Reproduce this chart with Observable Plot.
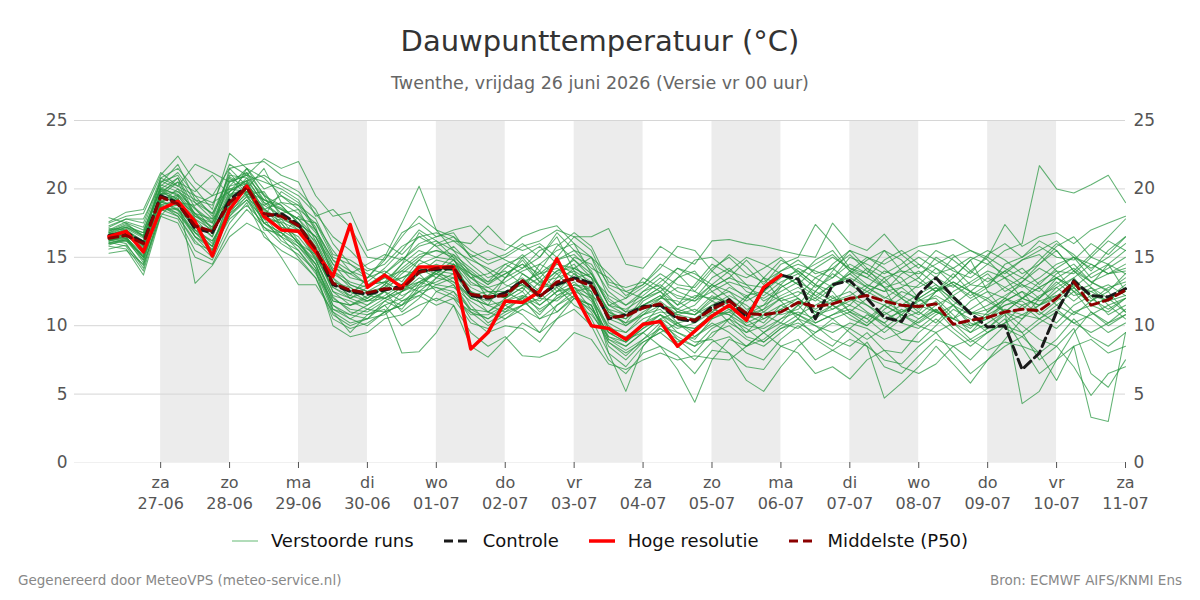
<!DOCTYPE html>
<html>
<head>
<meta charset="utf-8">
<script src="https://cdn.jsdelivr.net/npm/d3@7"></script>
<script src="https://cdn.jsdelivr.net/npm/@observablehq/plot@0.6"></script>
<style>
  html, body { margin: 0; padding: 0; background: #fff; }
  #wrap { position: relative; width: 1200px; height: 600px; font-family: "DejaVu Sans", sans-serif; }
  #chart { position: absolute; left: 0; top: 0; }
  .title { position: absolute; left: 0; width: 1200px; text-align: center; top: 24px; font-size: 29px; color: #333; }
  .subtitle { position: absolute; left: 0; width: 1200px; text-align: center; top: 73px; font-size: 17.5px; color: #666; }
  .legend { position: absolute; left: 0; width: 1200px; top: 530px; display: flex; justify-content: center; align-items: center; font-size: 18px; color: #111; }
  .legend .item { display: flex; align-items: center; margin: 0 15px; }
  .legend svg { margin-right: 13px; }
  .foot { position: absolute; top: 572px; font-size: 13.5px; color: #888; }
</style>
</head>
<body>
<div id="wrap">
  <div class="title">Dauwpunttemperatuur (°C)</div>
  <div class="subtitle">Twenthe, vrijdag 26 juni 2026 (Versie vr 00 uur)</div>
  <div id="chart"></div>
  <div class="legend">
    <div class="item"><svg width="26" height="10"><line x1="0" y1="5" x2="26" y2="5" stroke="#7cc48a" stroke-width="1.2"/></svg>Verstoorde runs</div>
    <div class="item"><svg width="26" height="10"><line x1="0" y1="5" x2="26" y2="5" stroke="#1a1a1a" stroke-width="3" stroke-dasharray="9,5"/></svg>Controle</div>
    <div class="item"><svg width="26" height="10"><line x1="0" y1="5" x2="26" y2="5" stroke="#ff0000" stroke-width="3.5"/></svg>Hoge resolutie</div>
    <div class="item"><svg width="26" height="10"><line x1="0" y1="5" x2="26" y2="5" stroke="#8b0000" stroke-width="3" stroke-dasharray="9,5"/></svg>Middelste (P50)</div>
  </div>
  <div class="foot" style="left:18px;">Gegenereerd door MeteoVPS (meteo-service.nl)</div>
  <div class="foot" style="right:18px;">Bron: ECMWF AIFS/KNMI Ens</div>
</div>
<script>
// ---- data (6-hourly from 26-06-2026 06:00 UTC) ----
const startTime = "2026-06-26T06:00:00Z";
const stepHours = 6;
const dayTicks = ["2026-06-27","2026-06-28","2026-06-29","2026-06-30","2026-07-01","2026-07-02","2026-07-03","2026-07-04","2026-07-05","2026-07-06","2026-07-07","2026-07-08","2026-07-09","2026-07-10","2026-07-11"];
const weekdays = ["zo","ma","di","wo","do","vr","za"];
const shadedDays = ["2026-06-27","2026-06-29","2026-07-01","2026-07-03","2026-07-05","2026-07-07","2026-07-09"];
const yTicks = [0,5,10,15,20,25];

const hres = [16.5,16.9,15.4,18.5,19.1,17.6,15.1,18.5,20.2,18.0,17.0,16.9,15.4,13.6,17.4,12.8,13.7,12.8,14.3,14.3,14.3,8.3,9.5,11.8,11.7,12.5,14.9,12.4,10.0,9.8,9.0,10.1,10.3,8.5,9.6,10.7,11.5,10.4,12.8,13.7];

const p50 = [16.4,16.6,16.0,19.4,18.9,17.3,16.9,19.0,20.1,18.2,18.0,17.3,15.6,13.1,12.6,12.4,12.7,12.7,13.9,14.2,14.3,12.3,12.1,12.2,13.3,12.1,13.2,13.4,12.9,10.6,10.7,11.3,11.6,10.6,10.4,11.2,11.8,10.9,10.8,11.0,11.7,11.4,11.6,12.0,12.2,11.8,11.5,11.4,11.6,10.1,10.4,10.6,11.0,11.2,11.1,12.0,13.2,11.5,11.9,12.6];

const control = [16.6,16.8,16.1,19.5,19.0,17.1,16.8,19.2,20.2,18.0,18.2,17.4,15.5,13.0,12.5,12.3,12.6,12.9,14.0,14.1,14.2,12.2,12.0,12.4,13.3,12.2,13.0,13.5,13.1,10.5,10.8,11.4,11.5,10.5,10.3,11.4,11.9,10.6,12.7,13.7,13.4,10.5,13.0,13.3,12.0,10.6,10.3,12.3,13.5,12.1,10.9,9.9,10.0,6.8,8.0,11.0,13.3,12.2,12.1,12.7];

const ensembleRuns = [
[16.8,17.2,16.5,20.1,19.5,18.0,17.2,20.5,21.0,19.2,18.5,17.8,16.0,13.5,12.0,11.5,12.2,13.0,14.5,15.0,14.8,13.2,12.5,12.0,13.8,12.9,14.0,14.2,13.5,11.0,10.2,11.8,12.5,11.0,10.8,12.0,12.5,11.2,11.5,12.2,12.8,12.0,13.1,13.5,12.8,12.1,11.5,12.3,13.0,11.8,10.9,11.5,12.2,13.0,12.5,13.8,14.5,13.2,12.6,13.5],
[16.2,16.5,14.8,18.9,18.2,16.8,15.5,18.8,20.3,18.6,17.2,16.5,14.9,12.1,11.0,10.8,11.5,12.0,13.2,13.8,13.5,11.5,10.2,11.0,12.1,11.2,12.0,13.0,12.5,9.8,9.0,10.2,10.8,9.5,9.0,10.5,11.2,10.0,9.8,10.5,11.5,10.2,10.8,11.5,10.9,10.0,9.5,10.3,11.2,9.8,8.8,9.5,10.2,10.8,10.5,11.5,12.5,11.0,10.2,11.2],
[17.5,18.0,18.2,21.0,22.4,20.5,19.5,21.5,21.8,22.0,21.0,20.5,18.0,18.5,17.2,15.0,14.8,16.5,18.0,17.0,16.5,15.5,14.8,15.2,16.0,15.0,16.8,15.5,14.2,13.5,12.2,13.0,14.5,13.8,12.5,14.0,15.2,14.3,13.0,14.5,15.0,17.4,16.0,14.2,13.8,15.5,14.8,13.5,15.0,14.2,13.0,12.8,14.5,15.0,16.2,15.5,14.0,15.2,16.5,17.8],
[15.8,15.6,13.7,18.0,17.5,15.0,14.5,17.0,18.5,17.2,16.0,15.2,14.0,10.0,9.2,9.5,10.5,10.8,11.5,12.0,11.5,8.5,7.7,9.0,10.2,9.5,10.5,11.2,10.0,7.5,6.5,8.0,8.5,7.8,6.5,8.2,8.0,7.0,6.8,8.5,9.0,7.5,8.2,9.0,8.5,7.5,7.2,8.5,9.5,8.0,6.5,7.5,8.5,9.2,8.0,9.0,10.5,9.2,8.5,9.5],
[16.5,17.0,16.0,19.5,20.5,19.8,21.0,19.5,20.0,17.5,16.5,18.0,17.0,14.5,13.0,12.5,12.0,11.5,13.0,14.0,13.2,12.0,11.5,13.5,14.2,15.0,16.5,14.0,12.0,10.0,9.0,9.5,10.5,9.0,8.5,9.8,10.5,12.0,13.5,11.8,10.5,12.5,14.0,15.5,14.2,12.8,10.5,11.0,12.5,13.5,14.8,12.5,11.0,10.5,12.0,13.5,12.8,11.5,12.0,13.0],
[16.9,17.5,17.0,20.0,19.2,18.2,16.8,20.8,19.5,18.8,19.5,18.5,17.5,15.0,14.5,13.8,13.0,14.5,15.5,15.0,15.8,14.5,13.5,14.0,13.0,12.0,13.5,15.0,14.5,12.5,11.5,12.5,13.0,12.0,11.8,13.0,12.0,11.0,12.5,13.5,14.0,13.0,12.0,11.5,12.8,14.0,13.5,12.0,11.0,12.5,13.2,14.0,13.5,12.0,11.5,12.8,13.5,14.5,13.8,14.2],
[16.0,16.2,15.2,19.0,18.8,17.5,15.0,18.5,20.5,18.0,17.5,16.0,15.2,12.5,11.5,11.8,12.5,11.0,12.0,13.5,14.5,12.5,11.0,10.5,11.5,12.8,13.0,12.0,11.2,9.5,8.8,10.0,11.5,10.2,9.5,11.0,12.0,10.5,9.5,10.2,11.5,13.0,12.5,11.0,10.5,9.5,10.5,12.0,12.8,11.5,10.0,10.5,11.8,12.5,11.0,10.2,11.5,12.2,10.8,11.5],
[16.6,16.8,15.8,19.8,20.5,17.8,16.5,19.8,21.2,19.0,18.0,17.0,15.0,12.8,12.2,13.5,15.0,17.5,20.2,17.0,15.5,13.8,12.0,12.5,13.0,14.0,12.5,13.8,13.0,11.2,10.0,10.8,12.0,13.5,14.0,12.5,11.5,10.8,11.2,12.8,13.5,12.2,11.5,13.0,14.2,13.5,12.0,11.2,12.5,13.8,12.5,11.0,12.0,13.2,14.5,15.5,14.0,12.8,12.0,12.5],
[16.3,16.0,14.2,18.5,18.0,16.0,15.5,18.0,19.5,17.0,16.8,15.8,14.5,11.5,10.5,10.0,11.0,11.5,12.5,11.8,12.5,10.5,9.5,10.0,9.8,8.8,10.5,12.0,11.5,8.5,7.5,8.8,9.5,8.5,7.5,8.8,9.2,8.0,7.5,9.0,10.0,9.0,8.2,7.5,8.8,7.0,6.5,7.8,9.0,8.5,7.5,8.8,10.0,9.5,7.5,8.5,9.8,6.5,5.5,7.5],
[17.0,17.2,16.8,20.5,21.0,19.0,18.2,21.0,20.8,19.5,18.8,17.5,16.5,14.0,13.2,12.8,13.5,14.0,15.0,15.5,15.2,13.5,13.8,14.5,15.0,13.5,14.8,15.5,15.0,12.0,11.0,12.5,13.5,12.5,12.0,13.5,14.2,13.0,12.8,14.0,14.5,14.0,13.5,15.0,14.5,13.8,14.5,15.5,14.8,14.0,13.5,14.5,15.5,16.0,21.7,20.0,19.7,20.3,21.0,19.0],
[16.1,15.8,14.0,18.2,17.8,15.5,14.8,17.5,19.0,16.5,15.5,14.8,13.5,10.8,10.0,10.5,11.5,10.0,10.8,12.5,13.0,11.0,10.5,11.5,10.8,9.5,11.5,12.5,10.5,8.0,7.0,8.5,9.8,9.0,8.0,9.5,10.0,9.0,8.5,9.5,10.5,10.0,9.0,8.5,9.5,8.2,8.0,9.5,10.5,9.5,8.5,9.5,10.5,8.5,6.5,7.5,8.5,3.3,3.0,9.5],
[17.2,17.8,17.5,20.8,21.5,20.0,18.5,22.6,21.5,20.0,20.5,19.8,18.5,16.0,14.5,13.5,14.0,13.2,14.8,16.0,16.5,15.0,14.0,13.0,12.5,14.5,15.5,16.0,13.8,11.5,12.0,13.5,12.8,11.5,13.0,14.5,13.8,12.5,12.0,12.8,13.5,14.8,15.5,14.0,13.0,12.5,13.8,14.5,13.5,12.8,14.0,15.0,14.2,13.5,14.8,16.0,15.2,14.0,15.5,16.5],
[16.4,16.6,15.5,19.2,18.5,17.2,16.0,19.0,19.8,18.5,17.8,16.2,14.2,12.0,11.2,11.0,11.8,12.5,13.5,13.0,12.8,11.8,11.0,12.0,12.8,11.5,12.5,13.2,12.0,9.0,8.5,9.5,8.5,6.8,4.4,7.5,9.0,8.5,9.5,10.5,11.0,10.5,11.5,10.8,10.0,11.2,12.0,11.0,10.2,11.5,12.5,11.8,11.0,12.0,12.8,11.5,10.8,11.8,12.5,11.0],
[16.7,17.0,16.2,19.6,19.8,18.5,17.5,20.2,20.6,18.2,17.0,16.8,15.5,13.2,12.8,12.0,12.8,13.5,14.0,14.5,14.0,12.8,12.2,12.8,13.5,12.5,13.8,14.5,12.8,10.5,10.0,11.0,11.8,10.8,10.5,11.5,12.2,11.5,10.5,11.2,12.0,11.0,10.5,9.5,8.5,4.7,5.8,7.0,8.5,7.2,5.8,7.5,9.0,10.5,11.5,12.0,13.0,12.5,11.8,12.8],
[15.9,16.3,15.0,18.8,19.2,17.0,16.2,18.2,19.2,17.8,16.2,15.5,13.8,11.8,11.5,12.0,13.0,12.2,12.8,13.2,13.8,12.2,11.8,12.5,11.8,10.8,12.2,12.8,11.8,9.2,8.8,9.8,10.5,9.8,10.2,11.0,10.8,9.5,10.0,11.0,11.8,11.2,12.0,12.5,11.5,10.5,11.0,11.8,12.0,10.8,9.5,10.2,11.0,12.0,11.5,12.5,13.5,12.0,11.2,12.0],
[16.5,16.9,15.9,19.9,19.0,18.8,19.5,20.0,20.4,18.5,19.0,18.2,16.8,14.2,13.8,14.5,15.2,14.8,16.0,16.5,17.0,17.3,16.0,15.5,16.5,17.0,17.3,16.0,15.0,13.0,12.5,13.0,14.2,15.8,15.5,14.0,13.0,12.0,13.5,14.8,14.0,13.0,14.5,15.5,15.0,14.2,13.0,12.8,13.5,15.0,15.5,14.8,13.5,12.8,13.5,14.5,15.0,13.5,14.2,15.0],
[16.3,16.4,15.3,18.6,18.8,17.0,15.8,18.8,20.0,17.8,17.5,16.0,14.8,12.2,11.8,11.2,11.0,11.5,12.2,13.0,13.5,12.0,11.5,11.0,11.5,12.0,11.8,12.8,12.2,9.5,9.2,10.0,10.8,10.0,9.8,10.8,11.0,10.2,10.8,11.5,10.8,11.5,12.2,11.0,10.2,11.5,12.5,12.0,11.0,10.5,11.2,12.0,11.0,4.3,5.2,7.5,9.5,11.0,10.0,10.8],
[16.6,17.1,16.4,20.3,19.8,19.0,17.8,21.2,19.6,19.8,18.0,17.2,16.2,13.8,13.0,12.5,12.8,14.0,13.8,14.8,14.5,13.0,12.8,12.0,13.2,13.8,14.2,13.5,13.8,11.8,11.0,11.5,12.2,11.0,11.5,12.8,13.5,13.0,11.8,12.5,13.2,12.5,13.8,13.0,12.2,13.5,14.0,13.2,12.5,13.0,12.0,12.8,13.5,14.2,13.0,14.2,15.0,14.5,13.8,14.0],
[16.4,16.7,16.2,19.3,19.5,17.8,17.0,19.5,20.8,18.8,18.0,17.5,15.8,13.0,12.5,11.8,12.0,12.8,13.8,14.2,14.0,12.5,11.5,11.8,12.2,11.8,12.8,13.5,12.5,8.0,5.2,8.5,10.0,9.5,8.8,9.0,8.0,6.0,5.2,7.0,8.5,9.5,10.5,11.0,12.0,11.5,10.8,12.0,12.8,12.0,11.0,10.5,11.5,12.0,12.8,13.5,12.5,11.8,12.8,13.2],
[17.9,17.5,16.5,19.0,20.0,18.2,17.8,19.2,20.2,19.2,18.6,17.8,17.5,15.5,14.0,13.0,13.2,12.5,13.2,14.0,15.2,14.2,13.2,13.8,14.5,13.2,13.5,14.0,13.2,11.0,10.5,11.5,12.0,11.8,11.0,12.2,11.5,10.5,11.0,12.0,12.5,11.8,12.8,14.0,13.5,12.8,12.0,13.0,14.2,13.0,12.2,13.0,14.0,13.0,12.0,13.0,14.0,13.2,12.5,13.8],
[16.2,16.8,15.6,19.1,18.4,16.5,15.2,18.6,19.6,17.5,16.8,16.0,14.5,11.2,10.8,11.5,12.5,11.8,12.5,12.8,12.2,10.8,10.8,11.5,12.0,10.5,11.0,12.2,11.5,9.0,8.2,9.0,9.8,8.8,9.2,10.2,9.5,8.5,9.0,10.0,10.8,10.0,9.5,10.2,9.8,9.0,9.5,10.5,11.2,10.2,9.0,9.8,11.0,10.0,9.0,8.5,7.0,4.9,6.5,7.0],
[16.8,16.5,15.0,19.6,20.8,18.6,17.0,21.5,20.2,18.0,19.8,19.0,17.2,13.5,12.5,13.0,13.8,15.0,14.2,13.8,14.8,13.5,12.8,13.2,14.0,14.5,13.8,12.5,12.8,10.8,10.5,12.0,12.5,11.5,12.2,12.0,11.8,10.8,11.5,13.0,12.0,11.0,11.8,12.2,13.0,12.5,12.8,11.8,12.5,13.2,12.5,13.5,12.8,12.0,13.2,14.0,12.5,13.0,14.5,12.5],
[15.3,15.5,14.5,18.0,19.5,13.1,14.4,16.5,17.5,16.8,15.0,13.0,13.0,11.0,9.5,10.8,11.2,8.0,8.1,9.5,11.5,9.5,8.5,9.2,7.8,7.7,8.2,9.5,9.0,7.2,6.8,7.5,8.0,7.5,7.8,7.6,7.5,8.5,9.5,8.5,8.0,6.5,7.0,6.1,7.5,8.2,7.0,6.5,7.2,8.5,9.0,8.2,8.8,8.5,8.0,6.0,8.5,9.0,8.0,8.5],
[17.6,18.3,18.5,21.2,20.2,21.8,21.2,20.5,21.0,22.2,21.5,22.0,19.5,18.0,18.3,15.5,16.0,15.2,16.5,16.8,16.2,16.0,17.3,16.0,15.5,16.0,15.0,16.5,16.5,17.1,14.5,14.2,15.8,15.0,14.5,16.2,16.3,16.0,15.8,15.5,15.2,15.0,17.5,16.0,15.5,16.7,15.2,15.8,16.0,16.3,15.5,15.0,17.4,15.8,16.5,16.8,16.0,17.0,17.5,18.0],
[16.9,17.3,16.8,20.2,21.2,19.5,18.0,20.9,20.0,21.5,19.0,18.8,17.8,15.2,14.8,14.0,14.5,15.8,16.5,15.8,16.2,15.2,14.5,15.0,15.8,16.2,17.0,16.5,15.5,12.8,12.0,12.8,13.8,13.0,12.8,14.2,15.0,13.8,13.2,14.0,14.8,13.8,14.2,15.2,14.0,13.2,14.2,15.0,14.2,13.5,14.8,15.5,14.8,13.8,14.5,15.8,16.5,15.0,14.5,15.5],
[16.0,16.4,14.6,18.8,18.0,16.2,15.0,18.2,19.8,18.0,16.5,15.0,13.5,10.5,9.8,10.2,11.0,12.5,13.8,12.5,12.0,11.0,10.0,10.8,11.5,12.5,11.0,12.0,11.5,8.8,7.8,9.0,10.2,9.2,8.5,9.2,10.5,9.8,8.8,9.8,10.5,9.2,8.5,9.8,10.8,10.2,9.0,8.8,10.0,11.2,10.5,9.5,10.2,11.5,10.5,9.8,11.0,10.5,9.5,10.2],
[17.0,17.6,17.2,20.6,20.0,19.2,18.8,21.8,21.0,20.5,20.0,19.2,17.0,14.8,13.5,13.2,14.2,15.5,17.0,16.2,15.0,14.0,13.0,14.2,15.2,14.0,15.8,16.8,15.8,13.2,12.8,13.2,12.5,13.5,14.8,15.0,14.0,13.5,14.2,15.0,13.8,14.5,15.2,14.0,15.0,14.5,15.2,14.2,15.5,14.8,13.8,15.2,16.0,15.0,15.8,15.0,14.8,16.0,15.2,16.5],
[16.2,16.6,15.6,19.4,19.0,17.5,16.5,19.6,20.0,17.5,17.8,17.2,15.5,12.5,12.0,12.8,13.5,13.0,12.5,13.5,14.5,13.5,12.5,12.5,13.0,12.2,13.2,14.2,13.5,10.2,9.5,10.5,11.0,10.8,11.2,10.5,11.0,12.2,11.0,10.8,11.2,12.5,11.8,12.0,11.5,10.8,11.5,10.8,11.8,10.5,9.8,11.0,12.0,11.2,12.2,12.8,11.8,12.8,11.5,12.0],
[16.6,16.4,15.0,19.0,19.6,18.2,17.2,19.8,20.6,19.0,18.5,17.8,16.5,14.0,12.8,12.0,13.0,14.2,15.2,15.5,15.0,12.0,12.2,13.5,14.8,13.2,14.5,13.8,12.2,11.2,10.8,11.2,12.0,12.8,12.5,11.8,12.8,12.2,12.5,11.8,12.2,13.5,14.2,13.2,12.5,13.2,12.2,11.5,11.0,10.5,11.8,12.5,12.0,11.5,12.0,13.2,12.2,12.5,13.0,12.2],
[16.3,16.9,15.8,19.7,19.3,16.8,15.8,19.3,21.5,19.5,17.2,17.0,14.8,11.8,11.5,12.2,12.0,12.5,13.0,13.8,13.0,11.2,11.0,11.8,12.5,11.0,12.0,12.5,12.0,9.8,9.5,10.8,11.2,10.0,9.8,10.8,11.5,10.8,10.2,11.5,12.0,10.8,11.2,12.0,11.0,10.2,11.2,10.5,11.5,12.2,11.0,10.8,11.5,11.8,10.8,11.8,12.8,11.5,11.0,12.0],
[17.3,17.8,17.8,20.4,21.8,19.2,18.2,20.2,21.5,20.8,19.5,18.8,17.0,14.8,14.0,13.5,14.8,16.8,17.5,16.5,16.8,15.0,15.5,14.8,14.2,15.5,16.0,14.8,13.5,12.2,11.5,12.2,13.2,14.2,13.5,12.8,13.5,14.8,13.5,13.0,14.2,13.5,12.8,13.8,14.8,15.5,14.0,13.8,14.5,15.2,14.0,13.2,14.0,14.8,15.2,14.0,13.8,15.0,16.2,15.5],
[16.4,16.2,14.8,18.6,18.5,16.8,16.2,18.4,19.4,18.2,17.0,16.2,14.5,11.5,10.8,10.5,11.8,11.2,12.8,14.0,13.8,12.5,12.0,11.2,12.0,13.2,12.8,11.5,10.8,9.2,8.5,9.5,10.5,11.0,10.8,11.5,10.2,9.5,10.8,10.2,9.8,10.8,11.5,10.5,10.0,11.0,10.2,9.8,10.8,11.5,10.2,9.8,10.8,9.5,10.5,11.2,10.2,10.8,11.5,10.5],
[16.8,17.4,16.6,20.0,19.6,18.6,17.6,20.6,21.2,19.6,18.2,18.5,16.2,13.2,12.2,11.8,12.5,13.8,14.8,14.2,14.5,13.8,13.0,13.8,14.5,13.8,14.8,15.2,14.0,11.5,11.2,12.0,12.8,12.2,11.8,12.5,13.2,12.8,12.2,13.2,13.8,12.8,13.5,14.5,13.8,12.8,13.2,14.0,13.0,12.2,13.0,13.8,12.5,13.2,14.2,13.5,12.8,13.8,14.5,13.8],
[15.6,15.9,14.4,18.4,18.6,16.5,15.6,17.8,18.8,17.5,16.8,15.5,14.0,11.0,10.2,10.5,10.8,11.8,12.2,11.5,12.0,10.2,9.8,10.5,11.2,10.5,11.5,12.2,11.0,8.8,8.0,8.8,9.5,10.2,9.2,10.0,10.5,9.2,8.8,9.8,10.2,9.5,10.2,9.8,9.0,9.8,10.8,10.0,9.5,10.2,9.5,10.8,9.8,9.2,10.2,11.0,10.2,9.5,10.2,10.8],
[17.1,17.0,16.0,20.8,20.2,19.5,19.0,19.8,20.6,21.0,20.2,19.5,18.2,16.5,15.5,14.2,13.8,14.8,15.8,16.2,15.5,14.8,14.2,13.5,15.0,15.8,14.5,14.2,15.0,13.8,12.5,12.0,12.8,14.2,13.8,13.0,14.0,15.0,14.5,13.8,13.0,14.2,15.0,14.2,13.5,14.8,15.5,14.5,13.8,14.2,15.0,14.5,13.8,14.8,15.5,16.2,15.0,14.2,15.0,16.0],
[16.5,16.7,15.7,19.5,19.2,17.5,16.8,19.4,20.0,18.4,17.6,17.0,15.2,12.8,12.0,12.5,13.2,13.5,14.2,13.5,13.2,12.2,12.5,12.0,12.8,13.5,12.2,13.0,12.8,10.8,10.2,10.8,11.5,11.2,10.8,11.8,11.2,10.5,11.2,12.0,11.5,12.0,11.2,11.8,12.5,11.8,11.0,11.5,12.2,11.5,10.8,11.2,11.8,12.5,11.8,12.2,13.0,12.2,11.8,12.2],
[16.7,17.2,16.6,20.0,20.8,18.0,17.5,20.0,19.8,19.2,18.8,17.5,16.5,14.5,13.8,13.0,13.2,14.5,16.8,15.8,14.8,13.8,13.2,14.5,13.8,13.0,14.0,14.8,13.8,11.5,10.8,11.5,12.2,11.2,12.0,13.0,12.5,11.8,12.5,13.8,13.0,12.2,13.0,13.8,12.8,12.0,12.8,13.5,12.5,13.2,12.5,12.0,12.8,13.5,12.8,13.5,14.2,13.2,13.8,14.5],
[16.1,16.3,15.1,18.7,18.2,16.5,15.8,18.0,19.2,17.2,16.5,15.8,14.2,11.2,10.5,11.2,12.0,12.8,13.2,12.8,12.5,11.2,10.5,11.2,12.2,11.5,12.5,12.8,11.2,9.5,8.8,9.8,10.8,10.2,10.5,11.2,10.8,10.0,10.5,11.2,10.8,10.2,10.8,11.2,10.5,11.5,10.8,10.2,11.0,10.5,10.0,10.5,11.2,10.8,11.5,12.2,11.0,11.5,12.0,11.0]
];

// ---- build tables ----
const t0 = new Date(startTime).getTime();
const timeAt = i => new Date(t0 + i * stepHours * 3600e3);
const toRows = vals => vals.map((v, i) => ({t: timeAt(i), v}));
const ensRows = ensembleRuns.flatMap((vals, m) => vals.map((v, i) => ({t: timeAt(i), v, m})));
const tickDates = dayTicks.map(d => new Date(d + "T00:00:00Z"));
const bands = shadedDays.map(d => { const a = new Date(d + "T00:00:00Z"); return {a, b: new Date(a.getTime() + 864e5)}; });
const fmt = d => weekdays[d.getUTCDay()] + "\n" + String(d.getUTCDate()).padStart(2, "0") + "-" + String(d.getUTCMonth() + 1).padStart(2, "0");

const chart = Plot.plot({
  width: 1200,
  height: 600,
  marginTop: 120,
  marginBottom: 138,
  marginLeft: 74,
  marginRight: 75,
  style: {fontFamily: "'DejaVu Sans', sans-serif", fontSize: "16px", color: "#555", background: "transparent"},
  x: {type: "utc", domain: [new Date("2026-06-25T18:00:00Z"), new Date("2026-07-11T00:00:00Z")]},
  y: {domain: [0, 25]},
  marks: [
    Plot.rect(bands, {x1: "a", x2: "b", y1: 0, y2: 25, fill: "#ececec"}),
    Plot.ruleY(yTicks.filter(d => d > 0), {stroke: "#d6d6d6", strokeWidth: 1}),
    Plot.ruleY([0], {stroke: "#f0f0f0", strokeWidth: 1}),
    Plot.line(ensRows, {x: "t", y: "v", z: "m", stroke: "#26963e", strokeOpacity: 0.72, strokeWidth: 1.05}),
    Plot.line(toRows(control), {x: "t", y: "v", stroke: "#1a1a1a", strokeWidth: 3, strokeDasharray: "9,5"}),
    Plot.line(toRows(hres), {x: "t", y: "v", stroke: "#ff0000", strokeWidth: 3.5}),
    Plot.line(toRows(p50), {x: "t", y: "v", stroke: "#8b0000", strokeWidth: 3, strokeDasharray: "9,5"}),
    Plot.axisY({anchor: "left", ticks: yTicks, tickSize: 0, tickPadding: 7, label: null, fontSize: 17}),
    Plot.axisY({anchor: "right", ticks: yTicks, tickSize: 0, tickPadding: 8, label: null, fontSize: 17}),
    Plot.axisX({ticks: tickDates, tickFormat: fmt, tickSize: 6, tickPadding: 5, label: null, lineHeight: 1.3, fontSize: 16, stroke: "#555"})
  ]
});
document.getElementById("chart").appendChild(chart);
</script>
</body>
</html>
